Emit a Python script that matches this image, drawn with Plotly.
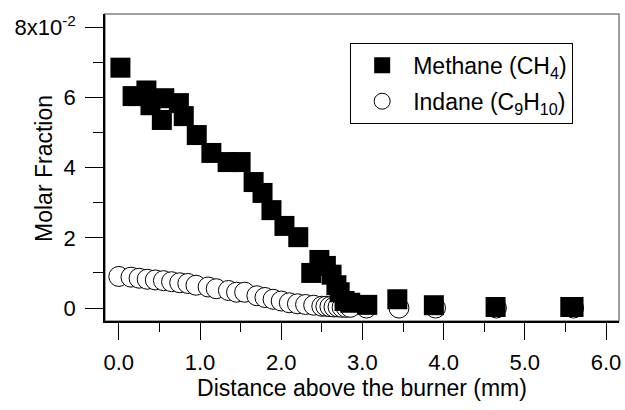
import plotly.graph_objects as go

# Distance above the burner (mm) and molar fraction values
methane_x = [0.02, 0.17, 0.34, 0.39, 0.53, 0.56, 0.74, 0.80, 0.96, 1.14, 1.34, 1.50,
             1.66, 1.77, 1.88, 2.04, 2.21, 2.37, 2.47, 2.55, 2.62, 2.68, 2.72, 2.78,
             2.85, 3.06, 3.43, 3.88, 4.64, 5.56, 5.60]
methane_y = [0.0685, 0.0604, 0.0620, 0.0578, 0.0536, 0.0598, 0.0584, 0.0547, 0.0493,
             0.0442, 0.0416, 0.0416, 0.0359, 0.0328, 0.0279, 0.0234, 0.0202, 0.0100,
             0.0137, 0.0120, 0.0095, 0.0065, 0.0045, 0.0020, 0.0015, 0.0009, 0.0025,
             0.0008, 0.0003, 0.0003, 0.0003]

indane_x = [0.00, 0.15, 0.25, 0.35, 0.45, 0.55, 0.65, 0.75, 0.85, 0.95, 1.10, 1.20,
            1.35, 1.45, 1.55, 1.70, 1.80, 1.90, 2.00, 2.10, 2.20, 2.30, 2.40, 2.50,
            2.55, 2.60, 2.65, 2.70, 2.75, 2.80, 2.85, 3.05, 3.45, 3.90, 4.65, 5.60]
indane_y = [0.0090, 0.0088, 0.0085, 0.0082, 0.0080, 0.0078, 0.0075, 0.0072, 0.0070,
            0.0065, 0.0060, 0.0055, 0.0050, 0.0045, 0.0045, 0.0035, 0.0030, 0.0025,
            0.0020, 0.0015, 0.0012, 0.0010, 0.0008, 0.0005, 0.0005, 0.0004, 0.0003,
            0.0003, 0.0002, 0.0002, 0.0002, 0.0000, 0.0000, 0.0000, 0.0000, 0.0000]

y_tickvals = [0.0, 0.02, 0.04, 0.06, 0.08]
y_ticktext = ["0", "2", "4", "6", "8x10<sup>-2</sup>"]
x_tickvals = [0, 1, 2, 3, 4, 5, 6]
x_ticktext = ["0.0", "1.0", "2.0", "3.0", "4.0", "5.0", "6.0"]

FONT = "Arial, Liberation Sans, sans-serif"

fig = go.Figure()
fig.add_trace(go.Scatter(
    x=indane_x, y=indane_y, mode="markers", name="Indane (C<sub>9</sub>H<sub>10</sub>)",
    legendrank=2, legendgroup="b",
    marker=dict(symbol="circle", size=20, color="white", line=dict(color="black", width=1)),
))
fig.add_trace(go.Scatter(
    x=methane_x, y=methane_y, mode="markers", name="Methane (CH<sub>4</sub>)",
    legendrank=1, legendgroup="a",
    marker=dict(symbol="square", size=20, color="black", line=dict(width=0)),
))

fig.update_layout(
    width=625, height=410,
    margin=dict(l=105, r=6, t=14, b=89, autoexpand=False),
    paper_bgcolor="white", plot_bgcolor="white",
    font=dict(family=FONT, size=22, color="black"),
    showlegend=True,
    legend=dict(
        x=0.477, y=0.906, xanchor="left", yanchor="top",
        bgcolor="white", bordercolor="black", borderwidth=1,
        font=dict(family=FONT, size=23, color="black"),
        itemwidth=52, tracegroupgap=3,
    ),
    shapes=[dict(type="rect", xref="paper", yref="paper", x0=0, x1=1, y0=0, y1=1,
                 line=dict(color="#808080", width=1.5), layer="below")],
    annotations=[dict(text="Molar Fraction", textangle=-90, xref="paper", yref="paper",
                      x=-0.119, y=0.498, xanchor="center", yanchor="middle",
                      showarrow=False, font=dict(size=23))],
)

fig.update_xaxes(
    range=[-0.17, 6.16], showgrid=False, zeroline=False, automargin=False,
    showline=True, linecolor="black", linewidth=1.5,
    ticks="outside", ticklen=17, tickwidth=1.2, tickcolor="black",
    tickvals=x_tickvals, ticktext=x_ticktext, ticklabelstandoff=4,
    minor=dict(ticks="outside", dtick=0.5, tick0=0, ticklen=9, tickwidth=1.2, tickcolor="black", showgrid=False),
    title=dict(text="Distance above the burner (mm)", standoff=2, font=dict(size=23)),
)
fig.update_yaxes(
    range=[-0.0037, 0.0838], showgrid=False, zeroline=False, automargin=False,
    showline=True, linecolor="black", linewidth=1.5,
    ticks="outside", ticklen=18, tickwidth=1.2, tickcolor="black",
    tickvals=y_tickvals, ticktext=y_ticktext, ticklabelstandoff=5,
    minor=dict(ticks="outside", dtick=0.01, tick0=0, ticklen=10, tickwidth=1.2, tickcolor="black", showgrid=False),
)

fig.write_html("out.html", config={"displayModeBar": False},
               post_script="document.body.style.margin='0px';document.body.style.overflow='hidden';")
